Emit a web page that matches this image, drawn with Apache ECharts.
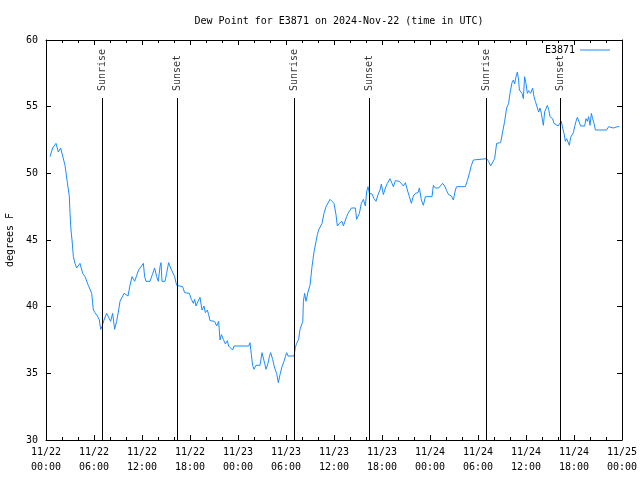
<!DOCTYPE html>
<html>
<head>
<meta charset="utf-8">
<script src="https://cdn.jsdelivr.net/npm/echarts@6/dist/echarts.min.js"></script>
<style>html,body{margin:0;padding:0;background:#fff}#c{width:640px;height:480px}</style>
</head>
<body>
<div id="c"></div>
<script>
// Hours since 2024-11-22 00:00 UTC
const hours = [0.5,0.83,1.25,1.54,1.83,2.08,2.375,2.67,2.92,3.0,3.125,3.25,3.42,3.625,3.83,4.25,4.58,4.875,5.08,5.29,5.5,5.71,5.92,6.125,6.42,6.67,6.83,7.0,7.25,7.58,7.83,8.08,8.33,8.58,8.83,9.08,9.25,9.5,9.75,10.0,10.25,10.5,10.75,11.08,11.33,11.58,11.83,12.17,12.33,12.5,13.0,13.29,13.58,13.83,14.04,14.25,14.375,14.5,14.875,15.08,15.33,15.58,15.83,16.08,16.33,
16.42,17.08,17.33,17.92,18.17,18.42,18.58,18.75,19.0,19.25,19.5,19.75,19.92,20.17,20.33,20.5,21.08,21.33,21.58,21.75,21.92,22.17,22.42,22.67,22.83,23.08,23.33,23.5,25.33,25.5,25.67,25.83,26.0,26.25,26.75,27.0,27.17,27.33,27.5,27.75,27.92,28.08,28.33,28.58,28.83,29.04,29.25,29.5,29.75,29.92,30.08,30.25,31.0,31.17,31.33,31.58,31.75,32.0,32.1,32.17,32.33,32.5,32.75,33.0,
33.25,33.5,33.75,33.92,34.08,34.33,34.5,34.75,35.0,35.25,35.5,35.75,36.0,36.25,36.42,36.67,37.0,37.17,37.42,37.58,37.75,38.0,38.17,38.67,38.83,39.0,39.17,39.42,39.67,39.92,40.08,40.25,40.42,40.75,41.0,41.25,41.5,41.75,41.92,42.17,42.42,42.67,43.0,43.25,43.42,43.67,43.92,44.17,44.42,44.67,44.92,45.17,45.42,45.67,45.92,46.17,46.5,46.67,46.92,47.17,47.42,48.25,48.42,48.67,49.08,49.33,49.58,49.83,50.08,50.33,50.67,50.92,51.17,51.33,52.42,52.67,52.92,53.17,53.42,53.67,
55.08,55.33,55.58,55.83,56.08,56.33,56.83,57.08,57.33,57.58,57.83,58.0,58.25,58.42,58.58,58.75,58.92,59.08,59.17,59.33,59.5,59.67,59.83,60.0,60.17,60.33,60.58,60.83,61.0,61.17,61.42,61.58,61.75,61.92,62.08,62.17,62.33,62.5,62.67,62.83,63.0,63.17,63.33,63.5,63.75,64.0,64.25,64.42,64.58,64.75,64.92,65.08,65.25,65.42,65.58,65.75,65.92,66.08,66.25,66.42,66.67,66.83,67.33,67.5,67.67,67.83,68.0,68.17,68.33,68.5,68.67,70.08,70.33,70.58,70.92,71.17,71.42,71.67];
const dewF = [51.25,51.9,52.25,51.6,51.9,51.9,50.6,49.3,48.25,47.0,45.75,45.0,43.75,43.25,42.9,43.25,42.5,42.25,42.25,41.6,41.75,41.0,39.75,39.55,39.3,39.0,38.3,38.5,39.0,39.5,39.5,38.9,39.5,38.3,38.9,39.75,40.4,40.7,41.0,41.1,40.8,41.6,42.25,41.9,41.9,42.75,42.75,43.25,42.25,41.9,41.9,42.4,42.9,42.25,41.9,43.0,43.3,41.9,41.9,42.5,43.3,42.9,42.8,42.25,41.6,
41.6,41.5,41.05,41.0,40.55,40.25,40.55,40.05,40.4,40.7,39.75,40.05,39.55,39.75,39.4,38.95,38.9,38.55,38.9,37.5,37.9,37.55,37.2,37.45,37.05,37.1,36.75,37.05,37.05,37.3,36.4,35.6,35.3,35.6,35.6,36.55,36.4,35.75,35.3,35.75,36.25,36.55,36.05,35.4,35.0,34.3,34.9,35.5,35.9,36.25,36.55,36.3,36.3,36.95,37.25,37.55,38.3,38.3,38.9,40.4,41.0,40.4,41.1,41.6,
43.0,44.1,44.1,45.4,45.75,45.8,46.25,47.0,47.5,47.6,48.05,48.0,47.75,46.9,46.05,46.25,46.4,46.05,46.05,46.75,47.0,47.05,47.4,47.4,46.55,46.4,47.0,47.75,48.05,47.55,48.6,49.0,48.5,48.45,48.1,47.9,48.4,48.75,49.2,48.4,48.9,49.25,49.6,49.25,49.0,49.45,49.6,49.4,49.4,49.05,49.3,48.75,48.25,47.75,48.3,48.5,48.55,48.9,48.0,47.6,48.25,48.25,49.1,48.9,48.9,49.05,49.25,49.05,48.7,48.4,48.3,48.0,48.75,49.0,49.0,49.45,50.0,50.6,51.0,51.1,
51.1,50.9,50.55,50.6,51.1,52.25,52.3,53.1,53.9,54.9,55.25,56.0,56.8,57.0,56.7,57.25,57.6,57.0,56.25,56.4,56.0,55.6,57.25,56.75,56.0,56.2,56.0,56.4,55.75,55.4,55.3,54.6,54.9,54.5,53.9,53.6,54.6,54.75,55.1,54.8,54.25,54.25,54.1,53.75,53.75,53.55,53.5,53.9,53.4,53.0,52.4,52.6,52.5,52.1,52.7,52.8,53.05,53.5,53.9,54.2,54.2,53.55,53.55,54.1,53.9,54.25,53.6,54.5,54.1,53.75,53.25,53.25,53.5,53.55,53.4,53.25,53.5,53.5];
const sunriseHours = [7.0, 31.04, 55.04];
const sunsetHours = [16.42, 40.42, 64.25];
const xTickLabels = ['11/22\n00:00','11/22\n06:00','11/22\n12:00','11/22\n18:00','11/23\n00:00','11/23\n06:00','11/23\n12:00','11/23\n18:00','11/24\n00:00','11/24\n06:00','11/24\n12:00','11/24\n18:00','11/25\n00:00'];
const seriesName = 'E3871';

const FONT = 'DejaVu Sans Mono';
const sunLineTop = 55.65;
const sunLabelY = 56.1;
const LINE_COLOR = '#1a8cff';

const chart = echarts.init(document.getElementById('c'), null, {renderer:'canvas'});
const axisLineStyle = {color:'#000', width:1};
function xAxisCfg(pos, labels){
  return {
    type:'value', min:0, max:72, interval:6, position:pos,
    axisLine:{show:true, onZero:false, lineStyle:axisLineStyle},
    axisTick:{show:true, inside:true, length:5, lineStyle:axisLineStyle},
    minorTick:{show:true, splitNumber:3, length:3, lineStyle:axisLineStyle},
    splitLine:{show:false},
    axisLabel:{show:labels, margin:5, color:'#000', fontFamily:FONT, fontSize:10, lineHeight:15,
      formatter:v=>xTickLabels[Math.round(v/6)]}
  };
}
function yAxisCfg(pos, labels){
  return {
    type:'value', min:30, max:60, interval:5, position:pos,
    name: labels ? 'degrees F' : '', nameLocation:'middle', nameGap:31,
    nameTextStyle:{color:'#000', fontFamily:FONT, fontSize:10},
    axisLine:{show:true, onZero:false, lineStyle:axisLineStyle},
    axisTick:{show:true, inside:true, length:5, lineStyle:axisLineStyle},
    splitLine:{show:false},
    axisLabel:{show:labels, margin:8, color:'#000', fontFamily:FONT, fontSize:10}
  };
}
const markData = [];
sunriseHours.concat(sunsetHours).forEach(t=>{
  markData.push([{coord:[t,30]},{coord:[t,sunLineTop]}]);
});
const labelData = sunriseHours.map(t=>({name:'Sunrise', value:[t,sunLabelY]}))
  .concat(sunsetHours.map(t=>({name:'Sunset', value:[t,sunLabelY]})));

chart.setOption({
  animation:false,
  title:{text:'Dew Point for E3871 on 2024-Nov-22 (time in UTC)', left:334, textAlign:'center', top:11,
    textStyle:{fontFamily:FONT, fontSize:10, fontWeight:'normal', color:'#000'}},
  legend:{data:[{name:seriesName, icon:'rect'}], right:25, top:40, align:'right', itemWidth:30, itemHeight:1, itemGap:5,
    textStyle:{fontFamily:FONT, fontSize:10, color:'#000'}},
  grid:{left:46, right:18, top:40, bottom:40, containLabel:false, outerBoundsMode:'none'},
  xAxis:[xAxisCfg('bottom', true), xAxisCfg('top', false)],
  yAxis:[yAxisCfg('left', true), yAxisCfg('right', false)],
  series:[
    {name:seriesName, type:'line', xAxisIndex:0, yAxisIndex:0, symbol:'none', showSymbol:false,
     data:hours.map((h,i)=>[h, dewF[i]]),
     lineStyle:{color:LINE_COLOR, width:1}, itemStyle:{color:LINE_COLOR},
     markLine:{silent:true, symbol:['none','none'], label:{show:false},
       lineStyle:{color:'#000', width:1, type:'solid'}, data:markData}},
    {name:'sun', type:'scatter', xAxisIndex:0, yAxisIndex:0, symbolSize:0, silent:true,
     data:labelData,
     label:{show:true, formatter:'{b}', position:'inside', rotate:90, align:'left', verticalAlign:'middle',
       offset:[1,0], color:'#000', fontFamily:FONT, fontSize:10}}
  ]
});
</script>
</body>
</html>
